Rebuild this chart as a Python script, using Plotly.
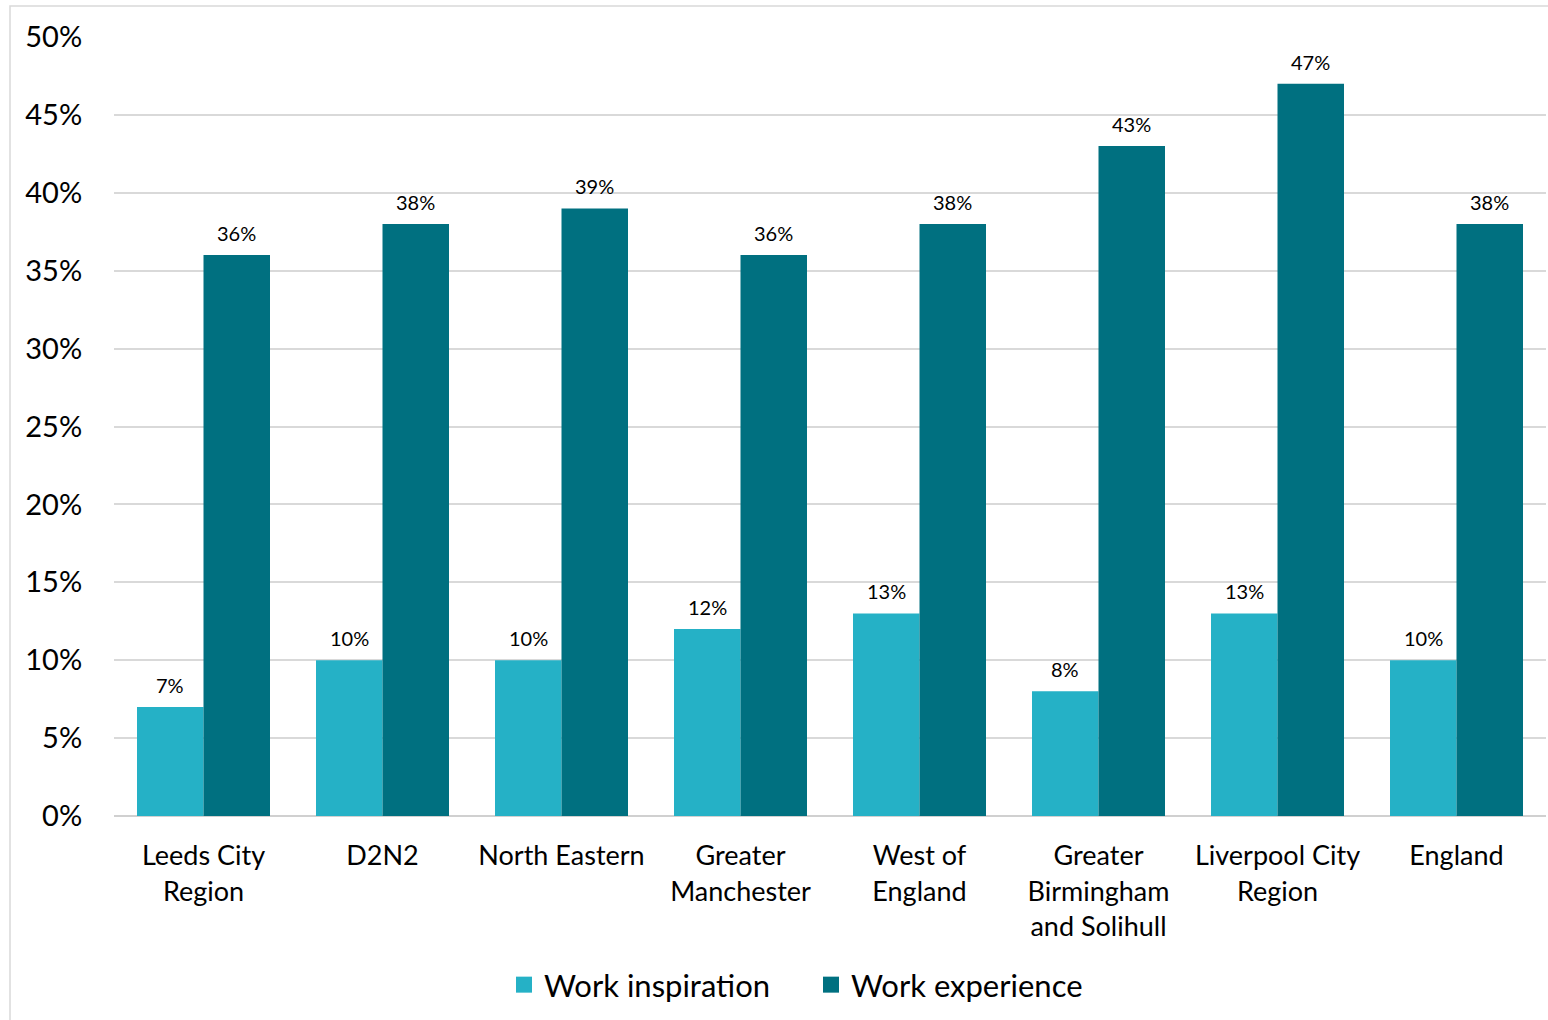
import plotly.graph_objects as go

regions = ["Leeds City<br>Region", "D2N2", "North Eastern", "Greater<br>Manchester",
           "West of<br>England", "Greater<br>Birmingham<br>and Solihull",
           "Liverpool City<br>Region", "England"]
work_inspiration = [7, 10, 10, 12, 13, 8, 13, 10]
work_experience = [36, 38, 39, 36, 38, 43, 47, 38]
y_ticks = [0, 5, 10, 15, 20, 25, 30, 35, 40, 45, 50]

FONT = "Lato, Carlito, Calibri, sans-serif"
LIGHT = "#25B1C6"
DARK = "#007080"

L, R, T, B = 114, 2, 37, 204
W, H = 1548, 1020
pw, ph = W - L - R, H - T - B
BARGAP = 0.257
half_bar = pw / len(regions) * (1 - BARGAP) / 4  # offset from group centre to bar centre

fig = go.Figure()
series = [("Work inspiration", work_inspiration, LIGHT, -half_bar),
          ("Work experience", work_experience, DARK, half_bar)]
for name, vals, col, _ in series:
    fig.add_trace(go.Bar(x=regions, y=vals, name=name, marker_color=col,
                         marker_line_width=0, showlegend=False))
# square legend keys
for name, _, col, _ in series:
    fig.add_trace(go.Scatter(x=[None], y=[None], mode="markers", name=name,
                             marker=dict(symbol="square", size=16, color=col)))

annotations = []
for name, vals, col, dx in series:
    for reg, v in zip(regions, vals):
        annotations.append(dict(x=reg, y=v, xref="x", yref="y", text=f"{v}%",
                                showarrow=False, xshift=dx, yshift=22,
                                font=dict(size=20, color="#000000", family=FONT)))

fig.update_layout(
    width=W, height=H,
    margin=dict(l=L, r=R, t=T, b=B),
    paper_bgcolor="white", plot_bgcolor="white",
    barmode="group", bargap=BARGAP, bargroupgap=0,
    font=dict(family=FONT, color="#000000"),
    showlegend=True,
    legend=dict(orientation="h", x=(811 - L) / pw, xanchor="center",
                y=(816 - 985) / ph, yanchor="middle",
                font=dict(size=31, family=FONT), itemwidth=30,
                entrywidth=262, itemsizing="trace", traceorder="normal"),
    xaxis=dict(showgrid=False, showline=False, ticks="outside", ticklen=16,
               tickcolor="rgba(0,0,0,0)", tickfont=dict(size=27, family=FONT)),
    yaxis=dict(range=[0, 50], tickvals=y_ticks,
               ticktext=[f"{v}%" for v in y_ticks],
               showgrid=True, gridcolor="#D9D9D9", gridwidth=1.5,
               zeroline=True, zerolinecolor="#D0D0D0", zerolinewidth=2,
               showline=False, ticks="outside", ticklen=25,
               tickcolor="rgba(0,0,0,0)", tickfont=dict(size=29, family=FONT)),
    annotations=annotations,
    shapes=[dict(type="rect", xref="paper", yref="paper",
                 x0=(10 - L) / pw, x1=1.05, y0=-0.4, y1=(816 - 6) / ph,
                 line=dict(color="#D9D9D9", width=1.5), layer="below")],
)

fig.write_html("out.html")
